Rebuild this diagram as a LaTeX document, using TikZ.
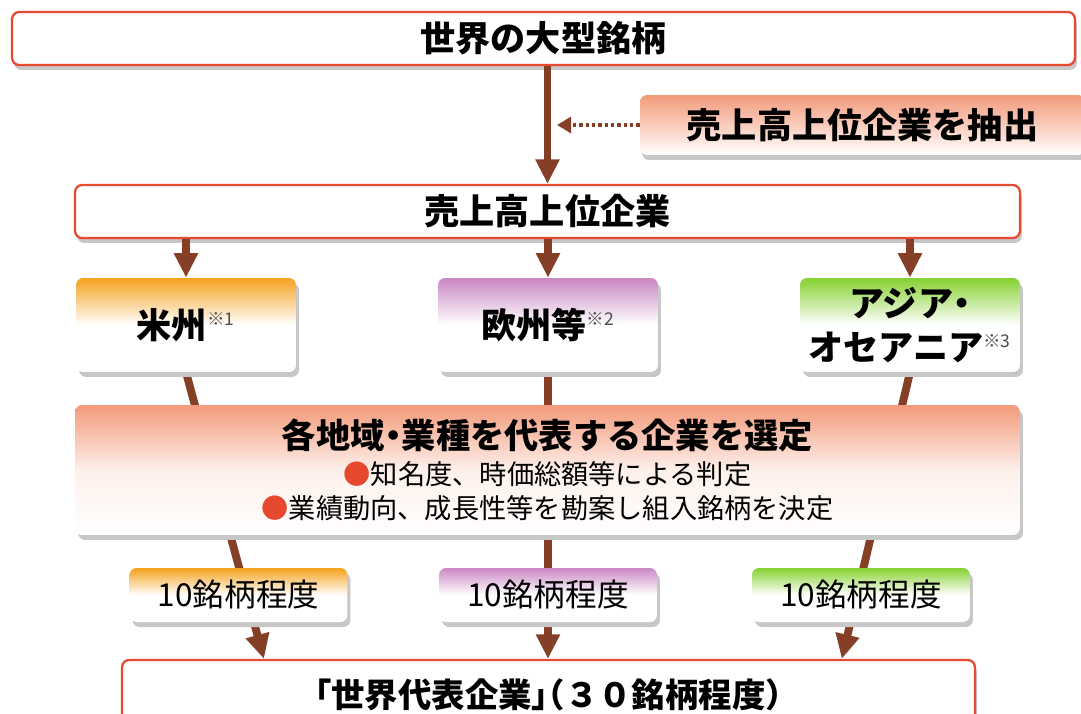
\documentclass[tikz,border=0pt]{standalone}
\usepackage{fontspec}
\setmainfont{Noto Sans CJK JP}
\newfontfamily\jphalt{Noto Sans CJK JP}[RawFeature=+halt]
\usetikzlibrary{arrows.meta, shadows, backgrounds, calc}

\definecolor{frame}{HTML}{E64A30}
\definecolor{arrowc}{HTML}{863F27}
\definecolor{amerc}{HTML}{F5A21E}
\definecolor{euroc}{HTML}{C987C4}
\definecolor{asiac}{HTML}{86D131}
\definecolor{salmon}{HTML}{F39A7A}
\definecolor{dotred}{HTML}{E5482D}
\newcommand\regnote[1]{\textsuperscript{\mdseries\fontsize{10}{10}\selectfont\color{black!70}※#1}}

\begin{document}
\begin{tikzpicture}[x=0.02cm, y=-0.02cm,
  box/.style={draw=frame, line width=1.3pt, rounded corners=4pt, fill=white,
    drop shadow={shadow xshift=0.04cm, shadow yshift=-0.1cm, fill=black!22, opacity=1}},
  grad/.style={rounded corners=4pt, top color=#1, bottom color=white, middle color=white,
    drop shadow={shadow xshift=0.06cm, shadow yshift=-0.1cm, fill=black!22, opacity=1}},
  region/.style={grad=#1, minimum width=4.4cm, minimum height=1.88cm, align=center,
    font=\jphalt\bfseries\fontsize{20}{25}\selectfont},
  count/.style={grad=#1, minimum width=4.36cm, minimum height=1.08cm,
    font=\fontsize{18}{20}\selectfont},
  arr/.style={draw=arrowc, line width=4.5pt, -{Triangle[length=14pt,width=13pt]}},
  hint/.style={draw=arrowc, line width=2.2pt, dash pattern=on 2pt off 1.6pt,
    -{Triangle[length=8pt,width=9pt]}}]
   \useasboundingbox (0,0) rectangle (1081,713);

   \node[box, minimum width=21.26cm, minimum height=1.06cm, font=\bfseries\fontsize{20}{24}\selectfont] (top) at (543.5,38.5) {世界の大型銘柄};
   \node[rounded corners=4pt, top color=salmon, bottom color=white, minimum width=8.9cm, minimum height=1.2cm,
     drop shadow={shadow xshift=0.04cm, shadow yshift=-0.1cm, fill=black!22, opacity=1},
     font=\bfseries\fontsize{20}{24}\selectfont] (extract) at (862.5,125) {売上高上位企業を抽出};
   \node[box, minimum width=18.9cm, minimum height=1.06cm, font=\bfseries\fontsize{20}{24}\selectfont] (sales) at (547.5,211.5) {売上高上位企業};

   \node[region=amerc] (amer) at (186,325) {米州\regnote{1}};
   \node[region=euroc] (euro) at (548,325) {欧州等\regnote{2}};
   \node[region=asiac] (asia) at (910,325) {アジア・\\オセアニア\regnote{3}};

   \node[grad=salmon, middle color=salmon!15, minimum width=18.9cm, minimum height=2.6cm, align=center,
     font=\fontsize{15.5}{19.5}\selectfont] (select) at (547.5,470)
     {{\jphalt\bfseries\fontsize{19.5}{19.5}\selectfont 各地域・業種を代表する企業を選定}\\[1pt]
      {\color{dotred}●}知名度、時価総額等による判定\\
      {\color{dotred}●}業績動向、成長性等を勘案し組入銘柄を決定};

   \node[count=amerc] (amerN) at (238.5,595) {10銘柄程度};
   \node[count=euroc] (euroN) at (548,595) {10銘柄程度};
   \node[count=asiac] (asiaN) at (861,595) {10銘柄程度};

   \node[box, minimum width=17.06cm, minimum height=1.4cm, font=\jphalt\bfseries\fontsize{19}{22}\selectfont] (final) at (548.5,695)
     {「世界代表企業」（３０銘柄程度）};

   \coordinate (join) at (557,125);
   \draw[arr] (top.south -| sales) -- (sales.north);
   \draw[hint] (extract.west) -- (join);
   \foreach \r in {amer, euro, asia}
     \draw[arr] (sales.south -| \r) -- (\r.north);

   \begin{scope}[on background layer]
     \draw[arr] (amer.south) -- ([xshift=2.86cm]final.north west);
     \draw[arr] (euro.south) -- (euro.south |- final.north);
     \draw[arr] (asia.south) -- ([xshift=14.42cm]final.north west);
   \end{scope}
\end{tikzpicture}
\end{document}
